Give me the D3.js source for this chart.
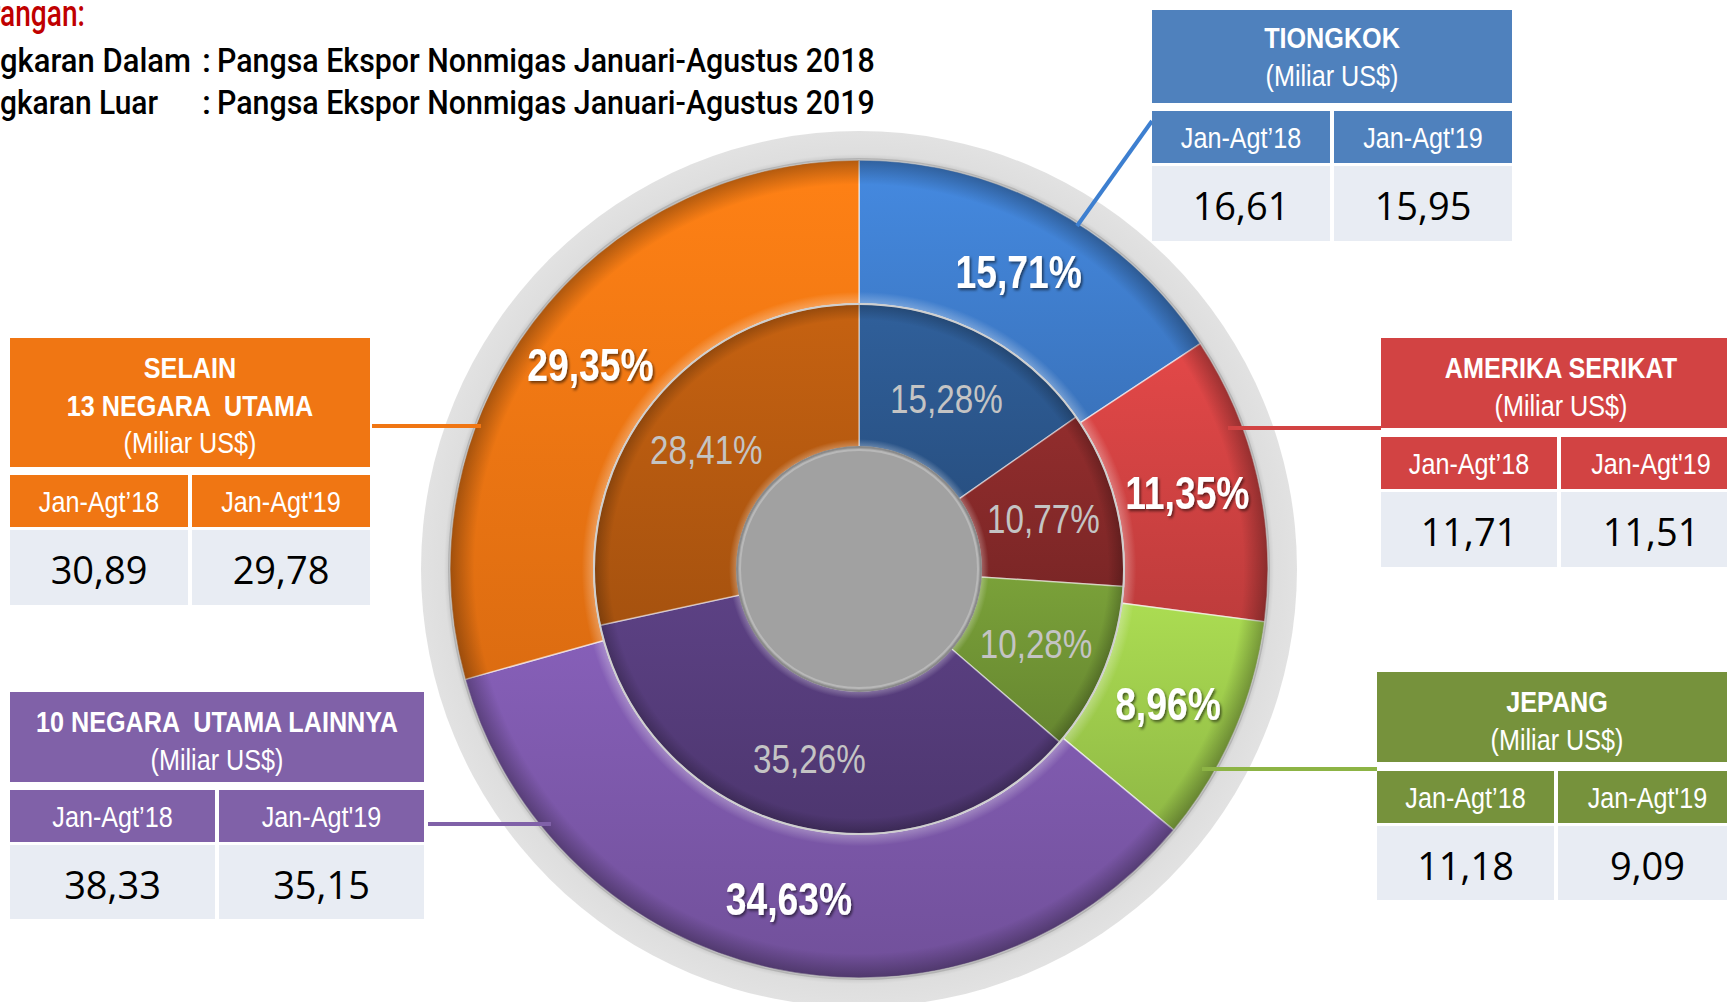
<!DOCTYPE html>
<html>
<head>
<meta charset="utf-8">
<script src="https://cdn.jsdelivr.net/npm/d3@7"></script>
<style>
  html, body { margin: 0; padding: 0; background: #fff; overflow: hidden; }
  svg { display: block; }
  text { white-space: pre; }
</style>
</head>
<body>
<div id="chart"></div>
<script>
// data
const categories = ["TIONGKOK", "AMERIKA SERIKAT", "JEPANG", "10 NEGARA  UTAMA LAINNYA", "SELAIN 13 NEGARA  UTAMA"];
const titleLines = [["TIONGKOK"], ["AMERIKA SERIKAT"], ["JEPANG"], ["10 NEGARA  UTAMA LAINNYA"], ["SELAIN", "13 NEGARA  UTAMA"]];
const share2018 = [15.28, 10.77, 10.28, 35.26, 28.41];   // lingkaran dalam
const share2019 = [15.71, 11.35, 8.96, 34.63, 29.35];    // lingkaran luar
const value2018 = [16.61, 11.71, 11.18, 38.33, 30.89];
const value2019 = [15.95, 11.51, 9.09, 35.15, 29.78];
const periodLabels = ["Jan-Agt\u201918", "Jan-Agt'19"];
const unitLabel = "(Miliar US$)";
const legendTitle = "Keterangan:";
const legendRows = [
    ["Lingkaran Dalam", "Pangsa Ekspor Nonmigas Januari-Agustus 2018"],
    ["Lingkaran Luar", "Pangsa Ekspor Nonmigas Januari-Agustus 2019"]
];

const outerColors = ["#3F7ECE", "#D04242", "#9CC94B", "#7B57A8", "#F07613"];
const innerColors = ["#2C588E", "#862929", "#709334", "#543B79", "#B55A10"];
const boxColors = ["#4F81BD", "#D24343", "#76923C", "#8061A8", "#F07613"];

const W = 1727, H = 1002;
const cx = 859, cy = 569;
const rHole = 122, rMid = 265, rOuter = 409, rBand = 438;

const fmt = d3.formatLocale({ decimal: ",", thousands: ".", grouping: [3], currency: ["", ""] });
const f2 = fmt.format(".2f");

const svg = d3.select("#chart").append("svg")
    .attr("width", W)
    .attr("height", H);

const defs = svg.append("defs");

// drop shadow for the big labels
const sh = defs.append("filter").attr("id", "shadow")
    .attr("x", "-20%").attr("y", "-20%").attr("width", "140%").attr("height", "140%");
sh.append("feDropShadow").attr("dx", 2).attr("dy", 2).attr("stdDeviation", 1.5)
    .attr("flood-color", "#000").attr("flood-opacity", 0.55);

// per slice gradients, lighter at top
function addGrad(id, col) {
    const g = defs.append("linearGradient").attr("id", id)
        .attr("x1", 0).attr("y1", 0).attr("x2", 0).attr("y2", 1);
    g.append("stop").attr("offset", "0%").attr("stop-color", d3.color(col).brighter(0.25));
    g.append("stop").attr("offset", "100%").attr("stop-color", d3.color(col).darker(0.25));
}
outerColors.forEach((c, i) => addGrad("go" + i, c));
innerColors.forEach((c, i) => addGrad("gi" + i, c));

// bevel overlays
function addBevel(id, r0, r1, darkOp) {
    const g = defs.append("radialGradient").attr("id", id)
        .attr("gradientUnits", "userSpaceOnUse")
        .attr("cx", 0).attr("cy", 0).attr("r", r1);
    const a = r0 / r1;
    g.append("stop").attr("offset", a).attr("stop-color", "#fff").attr("stop-opacity", 0.3);
    g.append("stop").attr("offset", a + 0.03).attr("stop-color", "#fff").attr("stop-opacity", 0);
    g.append("stop").attr("offset", 0.94).attr("stop-color", "#000").attr("stop-opacity", 0);
    g.append("stop").attr("offset", 1).attr("stop-color", "#000").attr("stop-opacity", darkOp);
}
addBevel("bevelOuter", rMid, rOuter, 0.3);
addBevel("bevelInner", rHole, rMid, 0.25);

const band = defs.append("radialGradient").attr("id", "band")
    .attr("gradientUnits", "userSpaceOnUse").attr("cx", 0).attr("cy", 0).attr("r", rBand);
band.append("stop").attr("offset", rOuter / rBand).attr("stop-color", "#c8c8c8");
band.append("stop").attr("offset", (rOuter + 6) / rBand).attr("stop-color", "#dedede");
band.append("stop").attr("offset", 1).attr("stop-color", "#e2e2e2");

// condensed text helper
function ctext(sel, x, y, str, size, weight, fill, sx, anchor) {
    return sel.append("text")
        .attr("transform", `translate(${x},${y}) scale(${sx},1)`)
        .attr("text-anchor", anchor || "middle")
        .attr("font-family", "'Liberation Sans', Arial, sans-serif")
        .attr("font-size", size)
        .attr("font-weight", weight)
        .attr("fill", fill)
        .text(str);
}

// ---------- donut ----------
const g = svg.append("g").attr("transform", `translate(${cx},${cy})`);

g.append("circle").attr("r", rBand).attr("fill", "url(#band)");

const pie = d3.pie().sort(null).value(d => d);
const arcOuter = d3.arc().innerRadius(rMid).outerRadius(rOuter);
const arcInner = d3.arc().innerRadius(rHole).outerRadius(rMid);

const outerData = pie(share2019);
const innerData = pie(share2018);

g.append("g").selectAll("path")
    .data(outerData)
    .enter()
    .append("path")
    .attr("d", arcOuter)
    .attr("fill", (d, i) => `url(#go${i})`)
    .attr("stroke", "rgba(255,255,255,0.6)")
    .attr("stroke-width", 1.5);

g.append("path")
    .attr("d", d3.arc().innerRadius(rMid).outerRadius(rOuter).startAngle(0).endAngle(2 * Math.PI)())
    .attr("fill", "url(#bevelOuter)");

g.append("g").selectAll("path")
    .data(innerData)
    .enter()
    .append("path")
    .attr("d", arcInner)
    .attr("fill", (d, i) => `url(#gi${i})`)
    .attr("stroke", "rgba(255,255,255,0.5)")
    .attr("stroke-width", 1.5);

g.append("path")
    .attr("d", d3.arc().innerRadius(rHole).outerRadius(rMid).startAngle(0).endAngle(2 * Math.PI)())
    .attr("fill", "url(#bevelInner)");

g.append("circle").attr("r", rMid).attr("fill", "none")
    .attr("stroke", "#cfcfcf").attr("stroke-width", 2);
g.append("circle").attr("r", rOuter + 1).attr("fill", "none")
    .attr("stroke", "#9a9a9a").attr("stroke-opacity", 0.5).attr("stroke-width", 2);

// centre hole
g.append("circle").attr("r", rHole).attr("fill", "#a1a1a1")
    .attr("stroke", "#8a8a8a").attr("stroke-width", 2);
g.append("circle").attr("r", rHole - 3).attr("fill", "none")
    .attr("stroke", "#b8b8b8").attr("stroke-width", 2);

// labels
const labelOuter = d3.arc().innerRadius(rMid).outerRadius(rOuter);
const labelInner = d3.arc().innerRadius(rHole).outerRadius(rMid);

outerData.forEach((d) => {
    const [x, y] = labelOuter.centroid(d);
    ctext(g, x, y + 16, f2(d.data) + "%", 46, "bold", "#fff", 0.81)
        .attr("filter", "url(#shadow)");
});
innerData.forEach((d) => {
    const [x, y] = labelInner.centroid(d);
    ctext(g, x - 2, y + 16, f2(d.data) + "%", 41, "normal", "#c4c4c4", 0.81);
});

// ---------- boxes ----------
const boxLayout = [
    { x: 1152, w: 360, split: 1332, hy: [10, 103], sy: [111, 163], vy: [166, 241], line: [[1077, 226], [1152, 121]] },
    { x: 1381, w: 360, split: 1559, hy: [338, 428], sy: [437, 489], vy: [492, 567], line: [[1228, 428], [1381, 428]] },
    { x: 1377, w: 360, split: 1556, hy: [672, 762], sy: [771, 823], vy: [826, 900], line: [[1202, 769], [1377, 769]] },
    { x: 10, w: 414, split: 217, hy: [692, 782], sy: [790, 842], vy: [845, 919], line: [[428, 824], [551, 824]] },
    { x: 10, w: 360, split: 190, hy: [338, 467], sy: [475, 527], vy: [530, 605], line: [[372, 426], [481, 426]] }
];

categories.forEach((cat, i) => {
    const L = boxLayout[i];
    const col = boxColors[i];
    const b = svg.append("g").attr("class", "box");
    const x0 = L.x, x1 = L.x + L.w;
    const mid = (x0 + x1) / 2;

    // connector
    b.append("line")
        .attr("x1", L.line[0][0]).attr("y1", L.line[0][1])
        .attr("x2", L.line[1][0]).attr("y2", L.line[1][1])
        .attr("stroke", i === 0 ? "#3D7FD0" : (i === 2 ? "#8DB445" : col))
        .attr("stroke-width", 4);

    // header
    b.append("rect").attr("x", x0).attr("y", L.hy[0]).attr("width", L.w).attr("height", L.hy[1] - L.hy[0]).attr("fill", col);
    const lines = titleLines[i];
    const top = L.hy[0] + (i === 0 ? 38 : 40);
    lines.forEach((t, k) => {
        ctext(b, mid, top + 37.5 * k, t, 30, "bold", "#fff", 0.84);
    });
    ctext(b, mid, top + 37.5 * lines.length, unitLabel, 30, "normal", "#fff", 0.84);

    // period row + values
    const cols = [[x0, L.split - 2], [L.split + 2, x1]];
    cols.forEach((c, k) => {
        b.append("rect").attr("x", c[0]).attr("y", L.sy[0]).attr("width", c[1] - c[0]).attr("height", L.sy[1] - L.sy[0]).attr("fill", col);
        ctext(b, (c[0] + c[1]) / 2, L.sy[0] + 37, periodLabels[k], 30, "normal", "#fff", 0.84);
        b.append("rect").attr("x", c[0]).attr("y", L.vy[0]).attr("width", c[1] - c[0]).attr("height", L.vy[1] - L.vy[0]).attr("fill", "#E8ECF3");
        b.append("text")
            .attr("x", (c[0] + c[1]) / 2)
            .attr("y", L.vy[0] + 54)
            .attr("text-anchor", "middle")
            .attr("font-family", "'Open Sans', 'Noto Sans', sans-serif")
            .attr("font-size", 38)
            .attr("fill", "#000")
            .text(f2(k === 0 ? value2018[i] : value2019[i]));
    });
});

// ---------- legend ----------
const leg = svg.append("g");
function ltext(x, y, str, anchor, fill, size) {
    return leg.append("text")
        .attr("transform", `translate(${x},${y})`)
        .attr("text-anchor", anchor)
        .attr("font-family", "Roboto, 'Liberation Sans', sans-serif")
        .attr("font-weight", 500)
        .attr("font-size", size)
        .attr("fill", fill)
        .text(str);
}
// squeeze a text so that chars [from, from+n) span the given width
function squeeze(t, x, y, from, n, width) {
    const len = t.node().getSubStringLength(from, n);
    t.attr("transform", `translate(${x},${y}) scale(${width / len},1)`);
}

const rowY = [72, 114];
const rowEnd = [191, 158];
const red = ltext(85, 26, legendTitle, "end", "#C00000", 37);
squeeze(red, 85, 26, 5, 6, 85);
legendRows.forEach((r, k) => {
    const name = ltext(rowEnd[k], rowY[k], r[0], "end", "#000", 34);
    squeeze(name, rowEnd[k], rowY[k], 3, r[0].length - 3, rowEnd[k]);
    const colon = ltext(202, rowY[k], ":", "start", "#000", 34);
    const desc = ltext(217, rowY[k], r[1], "start", "#000", 34);
    squeeze(desc, 217, rowY[k], 0, r[1].length, 658);
});
</script>
</body>
</html>
